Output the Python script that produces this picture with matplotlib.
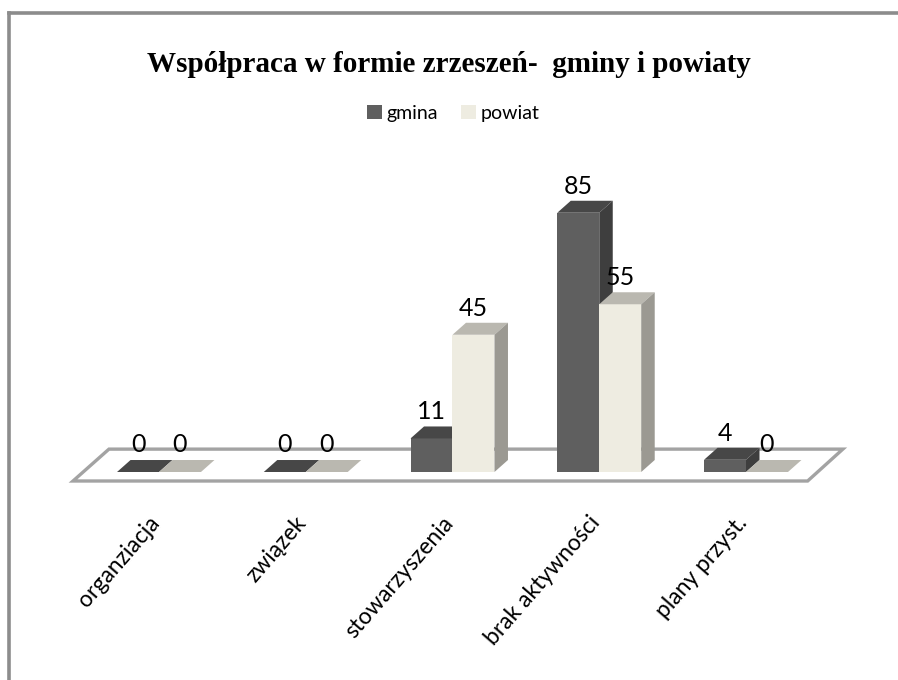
import matplotlib
matplotlib.use("Agg")
from matplotlib import pyplot as plt
from matplotlib.patches import Polygon, Patch
from matplotlib.lines import Line2D

# data
categories = ["organziacja", "związek", "stowarzyszenia", "brak aktywności", "plany przyst."]
gmina = [0, 0, 11, 85, 4]
powiat = [0, 0, 45, 55, 0]
series_names = ["gmina", "powiat"]
title = "Współpraca w formie zrzeszeń-  gminy i powiaty"

# colours (front, top, side)
GMINA_COLS = ("#5f5f5f", "#474747", "#3e3e3e")
POWIAT_COLS = ("#eeece1", "#bab8b0", "#9b9992")

W, H = 898, 680
fig = plt.figure(figsize=(W / 100, H / 100), dpi=100)
ax = fig.add_axes([0, 0, 1, 1])

# pixel layout -> data limits (category index on x, value on y)
px_cat, x0_px = 146.75, 159.0
px_val, y0_px = 3.05, 472.0
ax.set_xlim(-x0_px / px_cat, (W - x0_px) / px_cat)
ax.set_ylim(-(H - y0_px) / px_val, y0_px / px_val)
ax.axis("off")

bw = 0.286          # bar width
dx, dy = 0.092, 3.93  # 3d depth offset

# floor slab
fl_front, fl_back = -2.95, 7.5
floor = Polygon([(-0.586, fl_front), (4.42, fl_front), (4.66, fl_back), (-0.341, fl_back)],
                closed=True, facecolor="white", edgecolor="#a3a3a3", lw=2.4, zorder=1)
ax.add_patch(floor)


def draw_bars(xs, vals, cols):
    front, top, side = cols
    ax.bar(xs, vals, width=bw, align="edge", color=front, edgecolor="none", zorder=2)
    for x, v in zip(xs, vals):
        ax.add_patch(Polygon([(x, v), (x + bw, v), (x + bw + dx, v + dy), (x + dx, v + dy)],
                             closed=True, facecolor=top, edgecolor="none", zorder=2))
        if v > 0:
            ax.add_patch(Polygon([(x + bw, 0), (x + bw + dx, dy), (x + bw + dx, v + dy), (x + bw, v)],
                                 closed=True, facecolor=side, edgecolor="none", zorder=2))


idx = list(range(len(categories)))
draw_bars([i - bw for i in idx], gmina, GMINA_COLS)
draw_bars([i for i in idx], powiat, POWIAT_COLS)

# value labels
num_font = ["Liberation Sans Narrow", "Lato", "DejaVu Sans"]
for i in idx:
    for xc, v in ((i - bw / 2, gmina[i]), (i + bw / 2, powiat[i])):
        ax.text(xc, v + dy + (1.4 if v == 0 else 1.0), str(v), ha="center", va="bottom",
                fontsize=18, family=num_font, color="black", zorder=5)

# category labels
for i, lab in zip(idx, categories):
    ax.text(i - 0.02, -15.5, lab, rotation=49, rotation_mode="anchor", ha="right", va="center",
            fontsize=16.5, family=["Lato", "DejaVu Sans"], color="black")

# title and legend
fig.text(0.5, 1 - 65 / H, title, ha="center", va="center", fontsize=21,
         family=["Liberation Serif", "DejaVu Serif"], weight="bold")
handles = [Patch(facecolor=GMINA_COLS[0], edgecolor="none"),
           Patch(facecolor=POWIAT_COLS[0], edgecolor="none")]
fig.legend(handles, series_names, loc="center", bbox_to_anchor=(0.505, 1 - 113 / H), ncol=2,
           frameon=False, handlelength=0.75, handleheight=0.75, handletextpad=0.25,
           columnspacing=1.2, prop={"family": ["Lato", "DejaVu Sans"], "size": 14})

# outer chart border (partly cropped in the reference)
bx, by = 8.5 / W, 1 - 12.5 / H
fig.add_artist(Line2D([bx, 1.01], [by, by], color="#8c8c8c", lw=2.6, transform=fig.transFigure))
fig.add_artist(Line2D([bx, bx], [-0.01, by], color="#8c8c8c", lw=2.6, transform=fig.transFigure))

fig.savefig("out.png", dpi=100)
